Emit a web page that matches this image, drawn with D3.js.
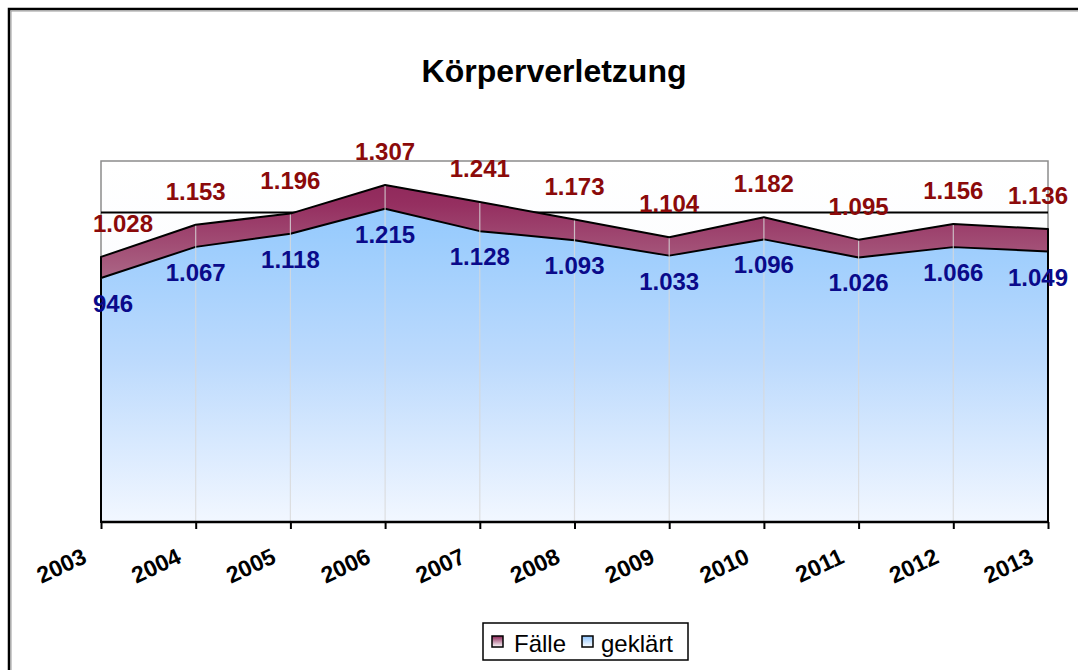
<!DOCTYPE html>
<html>
<head>
<meta charset="utf-8">
<script src="https://cdn.jsdelivr.net/npm/d3@7/dist/d3.min.js"></script>
<style>
  html, body { margin: 0; padding: 0; background: #fff; }
  svg { display: block; }
  text { font-family: "Liberation Sans", Arial, sans-serif; }
</style>
</head>
<body>
<svg id="chart" width="1078" height="670"></svg>
<script>
// ---- data ----
const years = ["2003","2004","2005","2006","2007","2008","2009","2010","2011","2012","2013"];
const faelle = [1028, 1153, 1196, 1307, 1241, 1173, 1104, 1182, 1095, 1156, 1136];
const geklaert = [946, 1067, 1118, 1215, 1128, 1093, 1033, 1096, 1026, 1066, 1049];
const seriesNames = ["Fälle", "geklärt"];
const gridValues = [1200];
const yDomain = [0, 1400];
const title = "Körperverletzung";

// ---- layout ----
const W = 1078, H = 670;
const plot = { left: 101, right: 1048, top: 161, bottom: 522 };
const svg = d3.select("#chart");
const fmt = v => d3.format(",")(v).replace(/,/g, ".");

const x = d3.scalePoint().domain(years).range([plot.left, plot.right]);
const y = d3.scaleLinear().domain(yDomain).range([plot.bottom, plot.top]);

const defs = svg.append("defs");
function vgrad(id, stops, y1, y2) {
  const g = defs.append("linearGradient").attr("id", id)
    .attr("x1", 0).attr("x2", 0);
  if (y1 !== undefined) {
    g.attr("gradientUnits", "userSpaceOnUse").attr("y1", y1).attr("y2", y2);
  } else {
    g.attr("y1", 0).attr("y2", 1);
  }
  stops.forEach(s => g.append("stop").attr("offset", s[0]).attr("stop-color", s[1]));
}
vgrad("bgGrad", [[0, "#ffffff"], [1, "#f3f6fc"]], plot.top, plot.bottom);
vgrad("fGrad", [[0, "#8a2255"], [0.12, "#952f60"], [0.32, "#ab6585"], [1, "#ffffff"]], plot.top, plot.bottom);
vgrad("gGrad", [[0, "#8cc3fd"], [0.2, "#9accfd"], [0.55, "#bcdafd"], [1, "#f2f7ff"]], plot.top, plot.bottom);
vgrad("fSw", [[0, "#8a2255"], [1, "#ffffff"]]);
vgrad("gSw", [[0, "#8cc3fd"], [1, "#ffffff"]]);

// outer frame
svg.append("rect").attr("x", 9).attr("y", 9).attr("width", W + 20).attr("height", H + 20)
  .attr("fill", "#fff").attr("stroke", "#000").attr("stroke-width", 2.5);
svg.append("path").attr("d", `M11,${H + 5}V11H${W + 5}`).attr("fill", "none")
  .attr("stroke", "#9a9a9a").attr("stroke-width", 1);

// title
svg.append("text").attr("x", 554).attr("y", 82).attr("text-anchor", "middle")
  .attr("font-size", 32).attr("font-weight", "bold").attr("fill", "#000").text(title);

// plot background
svg.append("rect").attr("x", plot.left).attr("y", plot.top)
  .attr("width", plot.right - plot.left).attr("height", plot.bottom - plot.top)
  .attr("fill", "url(#bgGrad)").attr("stroke", "#8c8c8c").attr("stroke-width", 1.5);

// horizontal grid line(s)
svg.selectAll(".hgrid").data(gridValues).join("line")
  .attr("x1", plot.left).attr("x2", plot.right)
  .attr("y1", d => y(d)).attr("y2", d => y(d))
  .attr("stroke", "#000").attr("stroke-width", 2);

// areas
const area = vals => d3.area()
  .x((d, i) => x(years[i]))
  .y0(y(0)).y1(d => y(d))(vals);

svg.append("path").attr("d", area(faelle)).attr("fill", "url(#fGrad)")
  .attr("stroke", "#000").attr("stroke-width", 2).attr("stroke-linejoin", "round");
svg.append("path").attr("d", area(geklaert)).attr("fill", "url(#gGrad)")
  .attr("stroke", "#000").attr("stroke-width", 2).attr("stroke-linejoin", "round");

// segment seams
svg.selectAll(".seam").data(years.slice(1, -1)).join("line")
  .attr("x1", d => x(d)).attr("x2", d => x(d))
  .attr("y1", d => y(faelle[years.indexOf(d)]) + 1).attr("y2", plot.bottom)
  .attr("stroke", "#d8d8d8").attr("stroke-opacity", 0.8).attr("stroke-width", 1.2);

// x axis
const xAxis = d3.axisBottom(x).tickSize(7).tickFormat("");
const ax = svg.append("g").attr("transform", `translate(0,${plot.bottom})`).call(xAxis);
ax.select(".domain").attr("stroke", "#000").attr("stroke-width", 2.5).attr("d", `M${plot.left},0H${plot.right}`);
ax.selectAll(".tick line").attr("stroke", "#000").attr("stroke-width", 2);

svg.selectAll(".ylab").data(years).join("text")
  .attr("transform", d => `translate(${x(d) - 13},562) rotate(-25)`)
  .attr("text-anchor", "end").attr("font-size", 23).attr("font-weight", "bold")
  .attr("fill", "#000").text(d => d);

// data labels
function labels(vals, color, dy) {
  const t = svg.selectAll(null).data(vals).join("text")
    .attr("x", (d, i) => x(years[i])).attr("y", d => y(d) + dy)
    .attr("text-anchor", "middle").attr("font-size", 24).attr("font-weight", "bold")
    .attr("fill", color).text(d => fmt(d));
  t.each(function () {
    const el = d3.select(this);
    const w = this.getComputedTextLength();
    let cx = +el.attr("x");
    cx = Math.max(cx, 93 + w / 2);
    cx = Math.min(cx, 1068 - w / 2);
    el.attr("x", cx);
  });
}
labels(faelle, "#8b0a0a", -25);
labels(geklaert, "#0a0a8a", 34);

// legend
const lg = svg.append("g");
lg.append("rect").attr("x", 483).attr("y", 623).attr("width", 205).attr("height", 37)
  .attr("fill", "#fff").attr("stroke", "#000").attr("stroke-width", 1.5);
const legendItems = [
  { name: seriesNames[0], fill: "url(#fSw)", sx: 492, tx: 514 },
  { name: seriesNames[1], fill: "url(#gSw)", sx: 582, tx: 601 }
];
legendItems.forEach(it => {
  lg.append("rect").attr("x", it.sx).attr("y", 636).attr("width", 11).attr("height", 11)
    .attr("fill", it.fill).attr("stroke", "#000").attr("stroke-width", 1.5);
  lg.append("text").attr("x", it.tx).attr("y", 652).attr("font-size", 24)
    .attr("fill", "#000").text(it.name);
});
</script>
</body>
</html>
